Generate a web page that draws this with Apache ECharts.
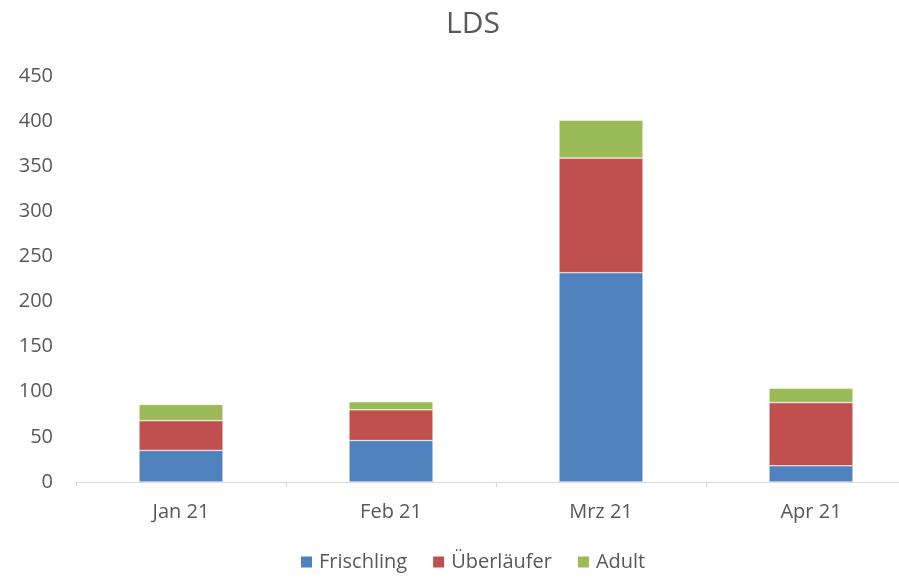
<!DOCTYPE html>
<html>
<head>
<meta charset="utf-8">
<script src="https://cdn.jsdelivr.net/npm/echarts@6/dist/echarts.min.js"></script>
<style>
  html, body { margin: 0; padding: 0; background: #fff; }
  #chart { width: 899px; height: 579px; }
</style>
</head>
<body>
<div id="chart"></div>
<script>
// Werte
const months = ['Jan 21', 'Feb 21', 'Mrz 21', 'Apr 21']
const frischling = [35, 46, 232, 18]
const ueberlaeufer = [33, 34, 127, 70]
const adult = [18, 9, 42, 16]
const yTicks = [0, 450, 50]  // min, max, interval

const font = '"Open Sans", "Noto Sans", sans-serif'
const grey = '#595959'

let myChart = echarts.init(document.getElementById('chart'))

let option = {
  animation: false,
  title: {
    text: 'LDS',
    left: 441,
    top: 4,
    textStyle: { fontFamily: font, fontSize: 30, fontWeight: 'normal', color: grey }
  },
  legend: {
    bottom: 2,
    left: 294,
    itemWidth: 13,
    itemHeight: 13,
    itemGap: 24,
    icon: 'rect',
    textStyle: { fontFamily: font, fontSize: 20, color: grey, padding: [0, 0, 0, 1] }
  },
  grid: {
    left: 76,
    top: 76,
    width: 840,
    bottom: 97,
    outerBoundsMode: 'none'
  },
  xAxis: {
    type: 'category',
    data: months,
    axisLine: { lineStyle: { color: '#d9d9d9', width: 1 } },
    axisTick: { show: true, length: 5, lineStyle: { color: '#d9d9d9' } },
    axisLabel: { fontFamily: font, fontSize: 20, color: grey, margin: 20 }
  },
  yAxis: {
    type: 'value',
    min: yTicks[0],
    max: yTicks[1],
    interval: yTicks[2],
    splitLine: { show: false },
    axisLine: { show: false },
    axisTick: { show: false },
    axisLabel: { fontFamily: font, fontSize: 20, color: grey, margin: 23 }
  },
  series: [
    {
      name: 'Frischling',
      type: 'bar',
      stack: 'total',
      barWidth: '40%',
      itemStyle: { color: '#4F81BD', borderColor: '#ffffff', borderWidth: 0.5 },
      data: frischling
    },
    {
      name: 'Überläufer',
      type: 'bar',
      stack: 'total',
      itemStyle: { color: '#C0504D', borderColor: '#ffffff', borderWidth: 0.5 },
      data: ueberlaeufer
    },
    {
      name: 'Adult',
      type: 'bar',
      stack: 'total',
      itemStyle: { color: '#9BBB59', borderColor: '#ffffff', borderWidth: 0.5 },
      data: adult
    }
  ]
}

option && myChart.setOption(option)
</script>
</body>
</html>
